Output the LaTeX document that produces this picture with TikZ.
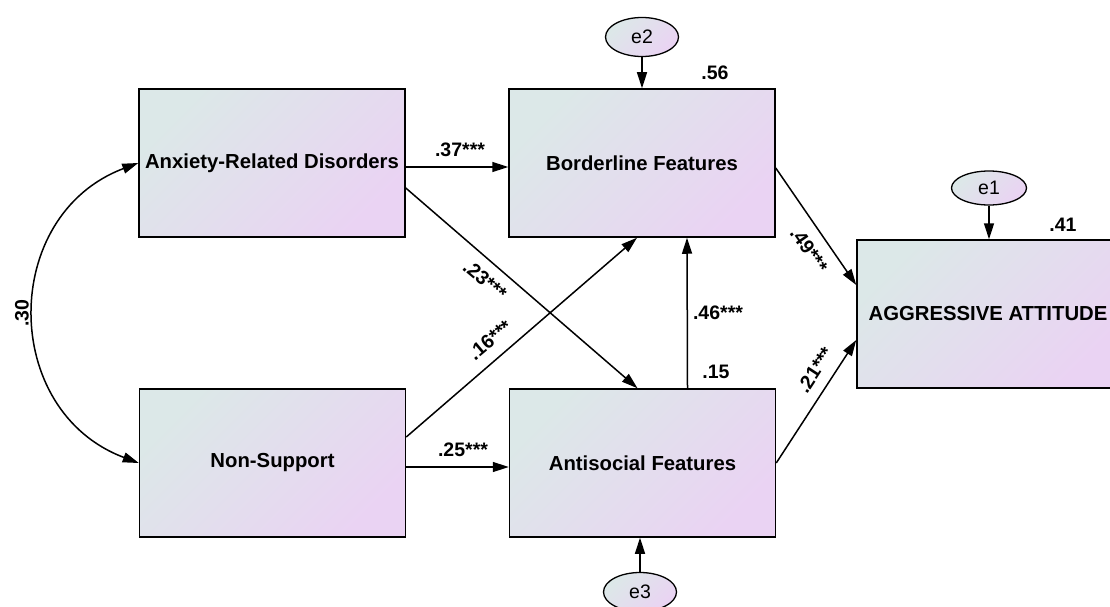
\documentclass[tikz,border=0pt]{standalone}
\usepackage{fontspec}
\setmainfont{Liberation Sans}
\usetikzlibrary{arrows.meta,shapes.geometric}
\definecolor{boxa}{RGB}{220,232,232}
\definecolor{boxb}{RGB}{234,211,243}

\begin{document}
\begin{tikzpicture}[x=1pt,y=-1pt,
    var/.style={draw,line width=1.5pt,left color=boxa,right color=boxb,shading angle=45,
        minimum width=266pt,minimum height=148pt,inner sep=0pt,
        font=\bfseries\fontsize{20.3}{24}\selectfont},
    err/.style={ellipse,draw,line width=1.3pt,left color=boxa,right color=boxb,shading angle=45,
        minimum width=73pt,minimum height=39pt,inner sep=0pt,font=\fontsize{19.5}{23}\selectfont},
    coef/.style={font=\bfseries\fontsize{19.5}{23}\selectfont,inner sep=0pt},
    arr/.style={-{Triangle[length=16pt,width=10pt]},line width=1.5pt,black}]
    \useasboundingbox (0,0) rectangle (1110,607);

    \node[var] (anx) at (272,163) {Anxiety-Related Disorders};
    \node[var] (bord) at (642,163) {Borderline Features};
    \node[var] (nons) at (272.5,463) {Non-Support};
    \node[var] (anti) at (642.5,463) {Antisocial Features};
    \node[var,minimum width=262pt] (aggr) at (988,314) {AGGRESSIVE ATTITUDE};

    \node[err] (e2) at (642,37) {e2};
    \node[err,minimum width=75pt,minimum height=34pt] (e1) at (989,188) {e1};
    \node[err] (e3) at (640,592) {e3};

    \node[coef,rotate=90] (l30) at (22,313) {.30};
    \node[coef] (l37) at (460,150) {.37***};
    \node[coef,rotate=-40] (l23) at (485,280) {.23***};
    \node[coef,rotate=40] (l16) at (490,340) {.16***};
    \node[coef] (l25) at (463,450) {.25***};
    \node[coef] (l46) at (718,313) {.46***};
    \node[coef] (l15) at (716,372) {.15};
    \node[coef] (l56) at (715,73) {.56};
    \node[coef] (l41) at (1063,225) {.41};
    \node[coef,rotate=-55] (l49) at (809,250) {.49***};
    \node[coef,rotate=57] (l21) at (815,370) {.21***};

    \path
    ([yshift=-4pt]anx.east) edge[arr] ([yshift=-4pt]bord.west)
    ([yshift=-25pt]anx.east) edge[arr] ([xshift=-5pt]anti.north)
    ([yshift=26pt]nons.east) edge[arr] ([xshift=-5pt]bord.south)
    ([yshift=-4pt]nons.east) edge[arr] ([yshift=-4pt]anti.west)
    ([xshift=45pt]anti.north) edge[arr] ([xshift=45pt]bord.south)
    ([yshift=-5pt]bord.east) edge[arr] ([yshift=29pt]aggr.west)
    (anti.east) edge[arr] ([yshift=-26pt]aggr.west)
    (e2) edge[arr] (bord)
    (e1.south) edge[arr] (e1.south |- aggr.north)
    (e3.north) edge[arr] (e3.north |- anti.south)
    ;
    \draw[arr,{Triangle[length=16pt,width=10pt]}-{Triangle[length=16pt,width=10pt]}]
        (anx.west) .. controls (0,215) and (0,411) .. (nons.west);
\end{tikzpicture}
\end{document}
